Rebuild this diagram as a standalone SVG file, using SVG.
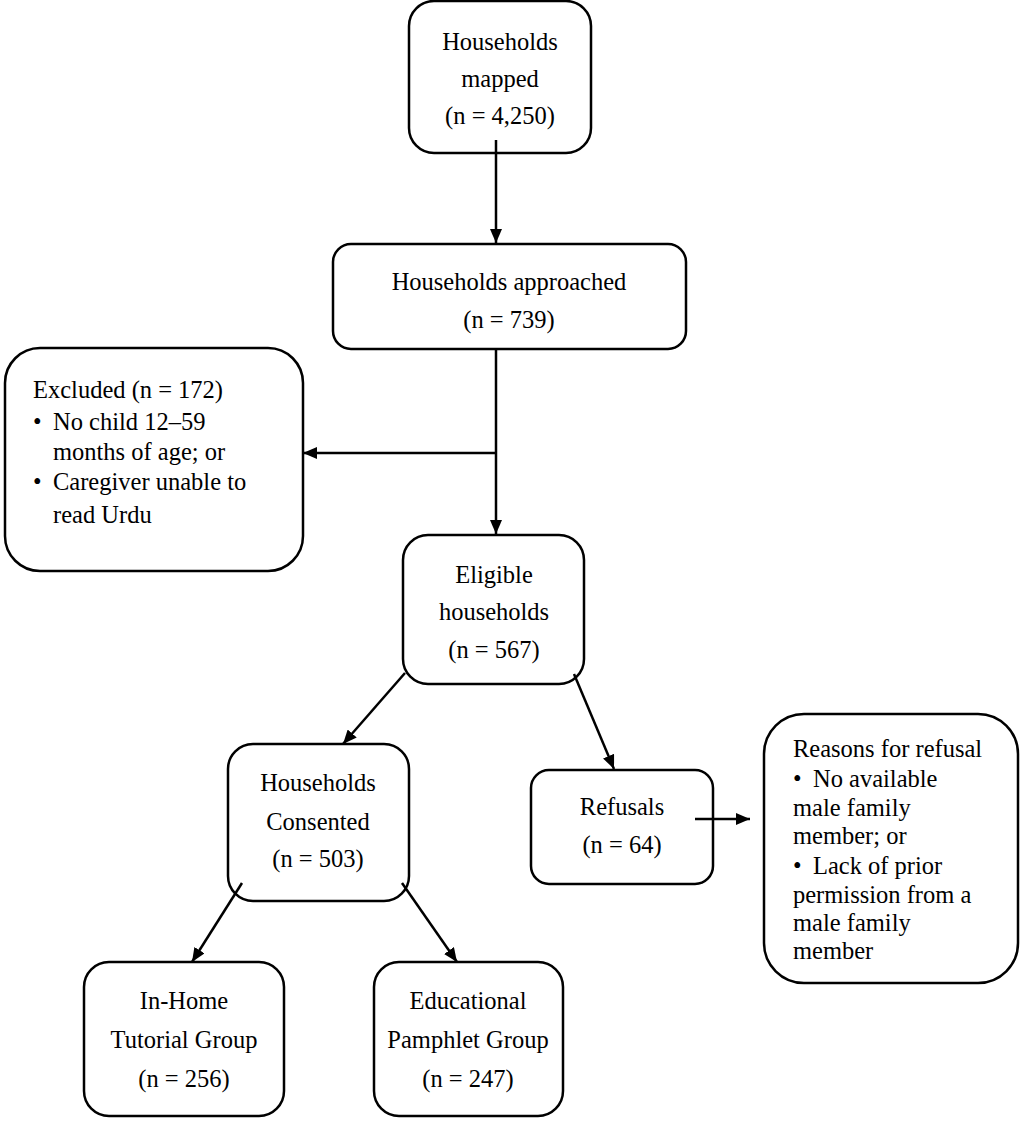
<svg xmlns="http://www.w3.org/2000/svg" width="1024" height="1121" viewBox="0 0 1024 1121">
<defs>
<marker id="ah" viewBox="0 0 14 12" refX="14" refY="6" markerWidth="14" markerHeight="12" markerUnits="userSpaceOnUse" orient="auto">
<path d="M0,0 L14,6 L0,12 z" fill="#000"/>
</marker>
<style>
.n rect{fill:#fff;stroke:#000;stroke-width:2.5}
.n text{font-family:"Liberation Serif","Times New Roman",serif;font-size:24.5px;fill:#000}
.c{text-anchor:middle}
.e line{stroke:#000;stroke-width:2.5;marker-end:url(#ah)}
</style>
</defs>
<rect width="1024" height="1121" fill="#fff"/>
<g class="n">
<g id="mapped"><rect x="409" y="1" width="182" height="152" rx="25"/>
<text class="c" x="500" y="50">Households</text><text class="c" x="500" y="87">mapped</text><text class="c" x="500" y="124">(n = 4,250)</text></g>
<g id="approached"><rect x="333" y="244" width="353" height="105" rx="18"/>
<text class="c" x="509" y="290">Households approached</text><text class="c" x="509" y="328">(n = 739)</text></g>
<g id="excluded"><rect x="5" y="348" width="298" height="223" rx="35"/>
<text x="33" y="398">Excluded (n = 172)</text>
<text x="33" y="430">•</text><text x="53" y="430">No child 12–59</text>
<text x="53" y="460">months of age; or</text>
<text x="33" y="490">•</text><text x="53" y="490">Caregiver unable to</text>
<text x="53" y="523">read Urdu</text></g>
<g id="eligible"><rect x="403" y="535" width="181" height="149" rx="25"/>
<text class="c" x="494" y="583">Eligible</text><text class="c" x="494" y="620">households</text><text class="c" x="494" y="658">(n = 567)</text></g>
<g id="consented"><rect x="228" y="744" width="181" height="157" rx="25"/>
<text class="c" x="318" y="791">Households</text><text class="c" x="318" y="830">Consented</text><text class="c" x="318" y="867">(n = 503)</text></g>
<g id="refusals"><rect x="531" y="770" width="182" height="114" rx="18"/>
<text class="c" x="622" y="815">Refusals</text><text class="c" x="622" y="853">(n = 64)</text></g>
<g id="reasons"><rect x="764" y="714" width="254" height="269" rx="40"/>
<text x="793" y="757">Reasons for refusal</text>
<text x="793" y="787">•</text><text x="813" y="787">No available</text>
<text x="793" y="816">male family</text>
<text x="793" y="844">member; or</text>
<text x="793" y="874">•</text><text x="813" y="874">Lack of prior</text>
<text x="793" y="903">permission from a</text>
<text x="793" y="931">male family</text>
<text x="793" y="959">member</text></g>
<g id="inhome"><rect x="84" y="962" width="200" height="154" rx="25"/>
<text class="c" x="184" y="1009">In-Home</text><text class="c" x="184" y="1048">Tutorial Group</text><text class="c" x="184" y="1087">(n = 256)</text></g>
<g id="pamphlet"><rect x="374" y="962" width="189" height="154" rx="25"/>
<text class="c" x="468" y="1009">Educational</text><text class="c" x="468" y="1048">Pamphlet Group</text><text class="c" x="468" y="1087">(n = 247)</text></g>
</g>
<g class="e" id="connectors">
<line x1="496" y1="140" x2="496" y2="243"/>
<line x1="496" y1="349" x2="496" y2="534"/>
<line x1="496" y1="453" x2="303" y2="453"/>
<line x1="405" y1="673" x2="343" y2="744"/>
<line x1="574" y1="674" x2="614" y2="769"/>
<line x1="695" y1="819" x2="750" y2="819"/>
<line x1="242" y1="883" x2="192" y2="962"/>
<line x1="402" y1="883" x2="457" y2="962"/>
</g>
</svg>
